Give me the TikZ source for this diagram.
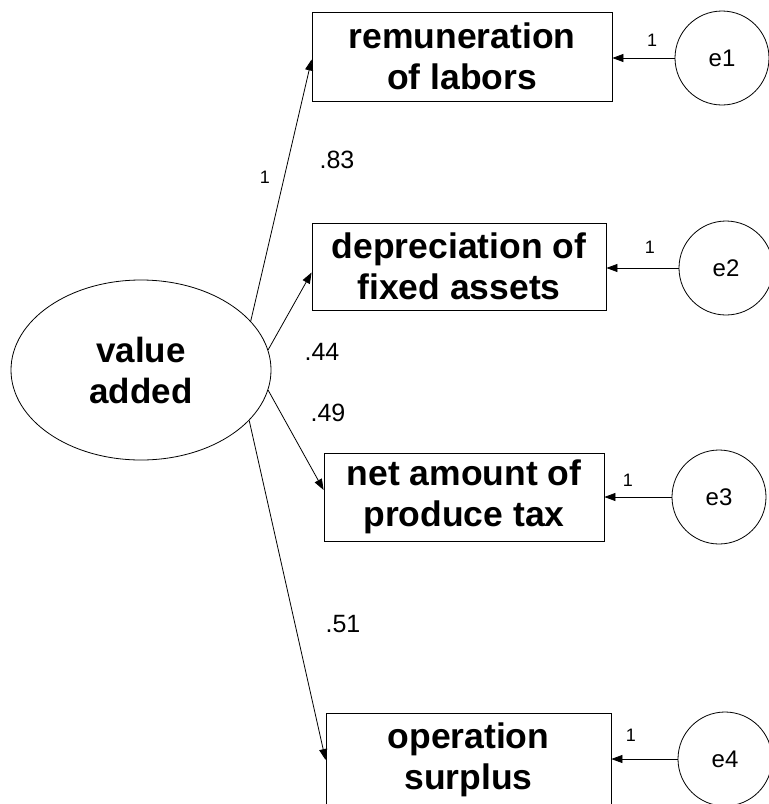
\documentclass[tikz,border=0pt]{standalone}
\usepackage{fontspec}
\setmainfont{Liberation Sans}
\usetikzlibrary{arrows.meta,shapes.geometric}
\begin{document}
\begin{tikzpicture}[x=1pt,y=-1pt,
  obs/.style={draw,line width=0.8pt,rectangle,inner sep=0pt,align=center,
    font=\fontsize{35.5}{41}\selectfont\bfseries},
  latent/.style={draw,line width=0.8pt,ellipse,inner sep=0pt,align=center,
    minimum width=260pt,minimum height=180pt,
    font=\fontsize{35}{41}\selectfont\bfseries},
  err/.style={draw,line width=0.8pt,circle,inner sep=0pt,minimum size=94pt,
    font=\fontsize{24}{28}\selectfont},
  path/.style={line width=0.8pt,-{Triangle[length=11pt,width=8pt]}},
  wt/.style={font=\fontsize{25}{29}\selectfont,inner sep=0pt},
  fix/.style={font=\fontsize{18}{21}\selectfont,inner sep=0pt}]
\clip (0,0) rectangle (769,804);
\useasboundingbox (0,0) rectangle (769,804);

% latent factor
\node[latent] (va) at (141,370) {value\\added};

% indicators
\node[obs,minimum width=300pt,minimum height=89pt] (b1) at (462,56.5) {remuneration\\of labors};
\node[obs,minimum width=294pt,minimum height=87pt] (b2) at (459,266.5) {depreciation of\\fixed assets};
\node[obs,minimum width=280pt,minimum height=88pt] (b3) at (464,497) {net amount of\\produce tax};
\node[obs,minimum width=285pt,minimum height=94pt] (b4) at (468.5,760) {operation\\surplus};

% error terms
\node[err] (e1) at (722,58) {e1};
\node[err] (e2) at (726,268) {e2};
\node[err] (e3) at (719,497) {e3};
\node[err] (e4) at (725,759) {e4};

% loadings
\draw[path] (va.24) -- ([yshift=-3pt]b1.west);
\draw[path] (va.9) -- ([yshift=-6pt]b2.west);
\draw[path] (va.-9) -- ([yshift=7pt]b3.west);
\draw[path] (va.-25) -- (b4.west);

% error paths
\draw[path] (e1.west) -- (e1.west -| b1.east);
\draw[path] (e2.west) -- (e2.west -| b2.east);
\draw[path] (e3.west) -- (e3.west -| b3.east);
\draw[path] (e4.west) -- (e4.west -| b4.east);

% estimates
\node[fix] (l1) at (265,177) {1};
\node[wt] (w1) at (337,160) {.83};
\node[wt] (w2) at (322,352) {.44};
\node[wt] (w3) at (328,413) {.49};
\node[wt] (w4) at (343,624) {.51};
\node[fix] (f1) at (652,40) {1};
\node[fix] (f2) at (650,247) {1};
\node[fix] (f3) at (628,480) {1};
\node[fix] (f4) at (631,735) {1};
\end{tikzpicture}
\end{document}
